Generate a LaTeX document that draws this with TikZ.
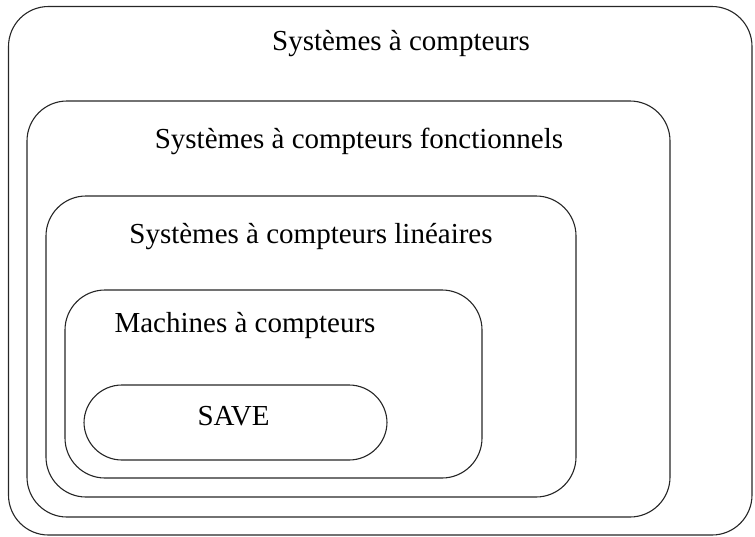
\documentclass[tikz,border=0pt]{standalone}
\usepackage{fontspec}
\setmainfont{Liberation Serif}
\tikzset{
  setbox/.style={draw=black!85, line width=1.1pt, rounded corners=40pt},
  savebox/.style={draw=black!85, line width=1.1pt, rounded corners=38pt},
  lbl/.style={anchor=base, inner sep=0pt, font=\fontsize{29}{33}\selectfont}
}
\begin{document}
\begin{tikzpicture}[x=1pt, y=-1pt]
\useasboundingbox (0,0) rectangle (755,536);
\draw[setbox] (8.5,6.5) rectangle (752,535);
\draw[setbox] (27,101) rectangle (670,517);
\draw[setbox] (46,196) rectangle (576,497);
\draw[setbox] (65,290) rectangle (482,478);
\draw[savebox] (84,385) rectangle (387,460);
\node[lbl] (t1) at (401,50) {Systèmes à compteurs};
\node[lbl] (t2) at (359,148) {Systèmes à compteurs fonctionnels};
\node[lbl] (t3) at (311,243) {Systèmes à compteurs linéaires};
\node[lbl] (t4) at (245,332) {Machines à compteurs};
\node[lbl] (t5) at (233.5,425) {SAVE};
\end{tikzpicture}
\end{document}
